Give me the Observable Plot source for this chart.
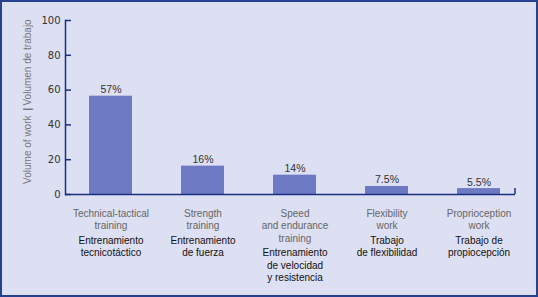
<!DOCTYPE html>
<html><head><meta charset="utf-8">
<script src="https://cdn.jsdelivr.net/npm/d3@7"></script>
<script src="https://cdn.jsdelivr.net/npm/@observablehq/plot@0.6"></script>
<style>
html,body{margin:0;padding:0;background:#dddff2;}
#chart{width:538px;height:297px;box-sizing:border-box;border:2px solid #25418f;background:#dddff2;overflow:hidden;}
#chart svg{display:block;background:transparent;}
</style></head><body><div id="chart"></div>
<script>
const categoriesEn = ["Technical-tactical\ntraining", "Strength\ntraining", "Speed\nand endurance\ntraining", "Flexibility\nwork", "Proprioception\nwork"];
const categoriesEs = ["Entrenamiento\ntecnicotáctico", "Entrenamiento\nde fuerza", "Entrenamiento\nde velocidad\ny resistencia", "Trabajo\nde flexibilidad", "Trabajo de\npropiocepción"];
const values = [56.5, 16.3, 11.1, 4.6, 3.4];
const valueLabels = ["57%", "16%", "14%", "7.5%", "5.5%"];
const yTicks = [0, 20, 40, 60, 80, 100];
const titleEn = "Volume of work";
const titleSep = "|";
const titleEs = "Volumen de trabajo";

const data = categoriesEn.map((c, i) => ({
  cat: c,
  value: values[i],
  label: valueLabels[i],
  esPadded: "\n".repeat(c.split("\n").length) + categoriesEs[i]
}));

const axisColor = "#1b2f80";

const rightEndTick = (index, scales, values, dims) => {
  const x = dims.width - dims.marginRight;
  const y0 = scales.y(0);
  return d3.create("svg:line")
    .attr("x1", x).attr("x2", x)
    .attr("y1", y0).attr("y2", y0 - 6)
    .attr("stroke", axisColor).attr("stroke-width", 1.5)
    .node();
};

const chart = Plot.plot({
  width: 534, height: 293,
  marginLeft: 63, marginRight: 21, marginTop: 18, marginBottom: 101,
  style: {background: "transparent", fontFamily: "'Liberation Sans', Arial, sans-serif", fontSize: "10px"},
  x: {domain: categoriesEn, paddingInner: 0.538, paddingOuter: 0.19, align: 0.6, axis: null},
  y: {domain: [0, 100], axis: null},
  marks: [
    Plot.barY(data, {x: "cat", y: "value", fill: "#6e79c4"}),
    Plot.ruleY([0], {stroke: axisColor, strokeWidth: 1.5}),
    Plot.frame({anchor: "left", stroke: axisColor, strokeWidth: 1.5}),
    Plot.axisY({ticks: yTicks, tickSize: 6, dx: 6, tickFormat: () => "", label: null, stroke: axisColor, strokeWidth: 1.5}),
    Plot.axisY({ticks: yTicks, tickSize: 0, tickPadding: 5, label: null, fill: "#333", fontSize: 10, fontFamily: "DejaVu Sans"}),
    rightEndTick,
    Plot.text(data, {x: "cat", y: "value", text: "label", lineAnchor: "bottom", dy: -3, fill: "#333", fontSize: 10.5}),
    Plot.text(data, {x: "cat", text: "cat", frameAnchor: "bottom", lineAnchor: "top", dy: 13.5, lineHeight: 1.25, fill: "#666"}),
    Plot.text(data, {x: "cat", text: "esPadded", frameAnchor: "bottom", lineAnchor: "top", dy: 15.5, lineHeight: 1.25, fill: "#111"}),
    Plot.text([titleEs], {text: d => d, frameAnchor: "left", rotate: -90, dx: -38, dy: -2, textAnchor: "start", fill: "#777"}),
    Plot.text([titleSep], {text: d => d, frameAnchor: "left", rotate: -90, dx: -38, dy: 3, fill: "#222"}),
    Plot.text([titleEn], {text: d => d, frameAnchor: "left", rotate: -90, dx: -38, dy: 8, textAnchor: "end", fill: "#777"})
  ]
});
document.getElementById("chart").appendChild(chart);
</script>
</body></html>
